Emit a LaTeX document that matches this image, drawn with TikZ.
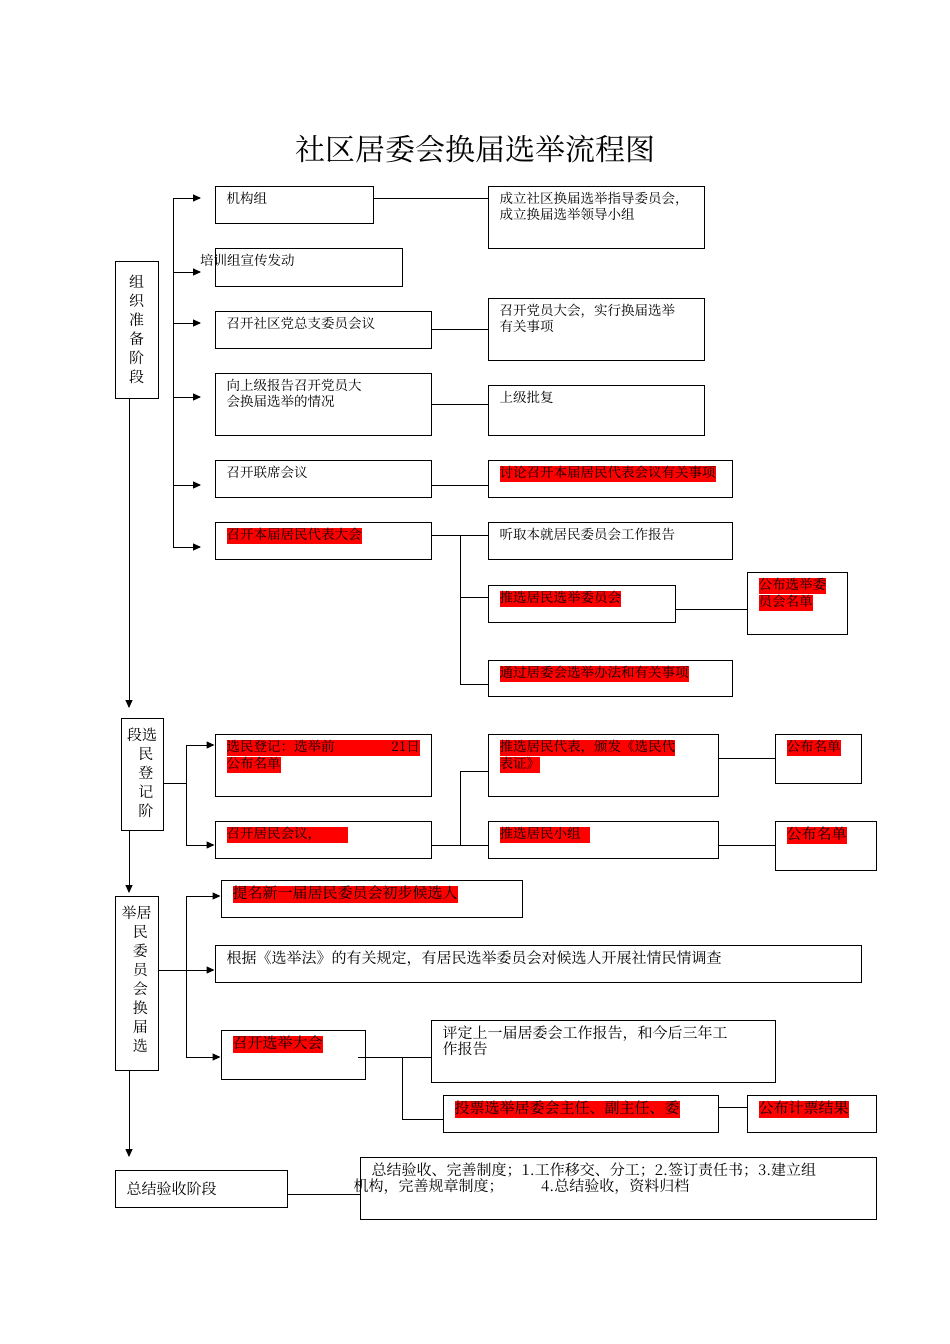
\documentclass[tikz,border=0pt]{standalone}
\usepackage{fontspec}
\setmainfont{Noto Serif CJK SC}
\XeTeXlinebreaklocale "zh"
\XeTeXlinebreakskip=0pt plus 1pt
\usetikzlibrary{fit,arrows.meta}
\newcommand{\hl}[1]{{\setlength{\fboxsep}{0pt}\colorbox{red}{\strut #1}}}
\newcommand{\bx}[6]{\node[box,fit={(#2,#3)(#4,#5)}] (#1) {};
  \pgfmathsetmacro{\tw}{#4-#2-20}
  \node[txt,anchor=north west,text width=\tw pt] at ([shift={(12,6)}]#1.north west) {#6};}
\begin{document}
\begin{tikzpicture}[x=1pt,y=-1pt,
  box/.style={draw,line width=1pt,inner sep=0pt},
  txt/.style={inner sep=0pt,align=left,font=\fontsize{13.5}{16}\selectfont},
  vtxt/.style={inner sep=0pt,align=center,font=\fontsize{15}{19}\selectfont},
  ln/.style={line width=1pt},
  ar/.style={line width=1pt,-{Triangle[length=8pt,width=7pt]}}]
\useasboundingbox (0,0) rectangle (950,1344);
\node[font=\fontsize{30}{34}\selectfont] (title) at (475,150) {社区居委会换届选举流程图};
% stages
\node[box,fit={(115,261)(158,398)}] (s1) {};
\node[vtxt] at (s1.center) {组\\织\\准\\备\\阶\\段};
\node[box,fit={(121,718)(163,830)}] (s2) {};
\node[vtxt,anchor=north] at ([yshift=-10pt]s2.north) {段选\\\ \ 民\\\ \ 登\\\ \ 记\\\ \ 阶};
\node[box,fit={(115,896)(158,1070)}] (s3) {};
\node[vtxt,anchor=north] at ([yshift=-10pt]s3.north) {举居\\\ \ 民\\\ \ 委\\\ \ 员\\\ \ 会\\\ \ 换\\\ \ 届\\\ \ 选};
\node[box,fit={(115,1170)(287,1207)}] (s4) {};
\node[txt,anchor=west,font=\fontsize{15}{18}\selectfont] at ([xshift=12pt]s4.west) {总结验收阶段};
\coordinate (e1) at (129,708);
\coordinate (e2) at (129,893);
\coordinate (e3) at (129,1157);
\draw[ar] (s1.south -| e1) -- (e1);
\draw[ar] (s2.south -| e2) -- (e2);
\draw[ar] (s3.south -| e3) -- (e3);
% stage 1
\bx{a1}{215}{186}{373}{223}{机构组}
\bx{a2}{215}{248}{402}{286}{}
\node[txt,anchor=north west] at (200,254) {培训组宣传发动};
\bx{a3}{215}{311}{431}{348}{召开社区党总支委员会议}
\bx{a4}{215}{373}{431}{435}{向上级报告召开党员大\\会换届选举的情况}
\bx{a5}{215}{460}{431}{497}{召开联席会议}
\bx{a6}{215}{522}{431}{559}{\hl{召开本届居民代表大会}}
\bx{b1}{488}{186}{704}{248}{成立社区换届选举指导委员会，\\成立换届选举领导小组}
\bx{b3}{488}{298}{704}{360}{召开党员大会，实行换届选举\\有关事项}
\bx{b4}{488}{385}{704}{435}{上级批复}
\bx{b5}{488}{460}{732}{497}{\hl{讨论召开本届居民代表会议有关事项}}
\bx{b6}{488}{522}{732}{559}{听取本就居民委员会工作报告}
\bx{b7}{488}{585}{675}{622}{\hl{推选居民选举委员会}}
\bx{b8}{488}{660}{732}{696}{\hl{通过居委会选举办法和有关事项}}
\bx{c7}{747}{572}{847}{634}{\hl{公布选举委}\\\hl{员会名单}}
\coordinate (j1) at (173,198);
\coordinate (j1b) at (173,547);
\draw[ln] (j1) -- (j1b);
\foreach \y in {198,272,323,397,485,547} \draw[ar] (173,\y) -- (201,\y);
\draw[ln] (373,198) -- (b1.west |- 0,198);
\draw[ln] (a3.east) -- (a3.east -| b3.west);
\draw[ln] (a4.east) -- (a4.east -| b4.west);
\draw[ln] (a5.east |- 0,485) -- (b5.west |- 0,485);
\coordinate (k1) at (460,535);
\draw[ln] (431,535) -- (b6.west |- k1);
\draw[ln] (k1) |- (b8.west |- 0,684);
\draw[ln] (460,597) -- (b7.west |- 0,597);
\draw[ln] (b7.east |- 0,609) -- (c7.west |- 0,609);
% stage 2
\bx{d1}{215}{734}{431}{796}{\hl{选民登记：选举前\hspace{4.2em}21日}\\\hl{公布名单}}
\bx{d2}{215}{821}{431}{858}{\hl{召开居民会议，\hspace{2em}}}
\bx{e1b}{488}{734}{718}{796}{\hl{推选居民代表，颁发《选民代}\\\hl{表证》}}
\bx{e2b}{488}{821}{718}{858}{\hl{推选居民小组\ \ }}
\bx{f1}{775}{734}{861}{783}{\hl{公布名单}}
\bx{f2}{775}{821}{876}{870}{\hl{\fontsize{15}{18}\selectfont 公布名单}}
\draw[ln] (s2.east |- 0,783) -- (186,783);
\draw[ln] (186,745) -- (186,845);
\draw[ar] (186,745) -- (d1.west |- 0,745);
\draw[ar] (186,845) -- (d2.west |- 0,845);
\draw[ln] (d2.east |- 0,845) -- (e2b.west |- 0,845);
\draw[ln] (460,845) |- (e1b.west |- 0,771);
\draw[ln] (e1b.east |- 0,758) -- (f1.west |- 0,758);
\draw[ln] (e2b.east |- 0,845) -- (f2.west |- 0,845);
% stage 3
\bx{g1}{221}{880}{522}{917}{\hl{\fontsize{15}{18}\selectfont 提名新一届居民委员会初步候选人}}
\bx{g2}{215}{945}{861}{982}{\fontsize{15}{18}\selectfont 根据《选举法》的有关规定，有居民选举委员会对候选人开展社情民情调查}
\bx{g3}{221}{1030}{365}{1079}{\hl{\fontsize{15}{18}\selectfont 召开选举大会}}
\bx{h1}{431}{1020}{775}{1082}{\fontsize{15}{18}\selectfont 评定上一届居委会工作报告，和今后三年工\\作报告}
\bx{h2}{443}{1095}{718}{1132}{\hl{\fontsize{15}{18}\selectfont 投票选举居委会主任、副主任、委}}
\bx{i2}{747}{1095}{876}{1132}{\hl{\fontsize{15}{18}\selectfont 公布计票结果}}
\draw[ln] (186,896) -- (186,1057);
\draw[ln] (s3.east |- 0,970) -- (186,970);
\draw[ar] (186,896) -- (g1.west |- 0,896);
\draw[ar] (186,970) -- (g2.west |- 0,970);
\draw[ar] (186,1057) -- (g3.west |- 0,1057);
\draw[ln] (358,1057) -- (h1.west |- 0,1057);
\draw[ln] (402,1057) |- (h2.west |- 0,1119);
\draw[ln] (h2.east |- 0,1107) -- (i2.west |- 0,1107);
% stage 4
\bx{j}{360}{1157}{876}{1219}{\fontsize{15}{18}\selectfont 总结验收、完善制度；1.工作移交、分工；2.签订责任书；3.建立组\\\hspace{-1.2em}机构，完善规章制度；\hspace{2.5em}4.总结验收，资料归档}
\draw[ln] (s4.east |- 0,1194) -- (j.west |- 0,1194);
\end{tikzpicture}
\end{document}
